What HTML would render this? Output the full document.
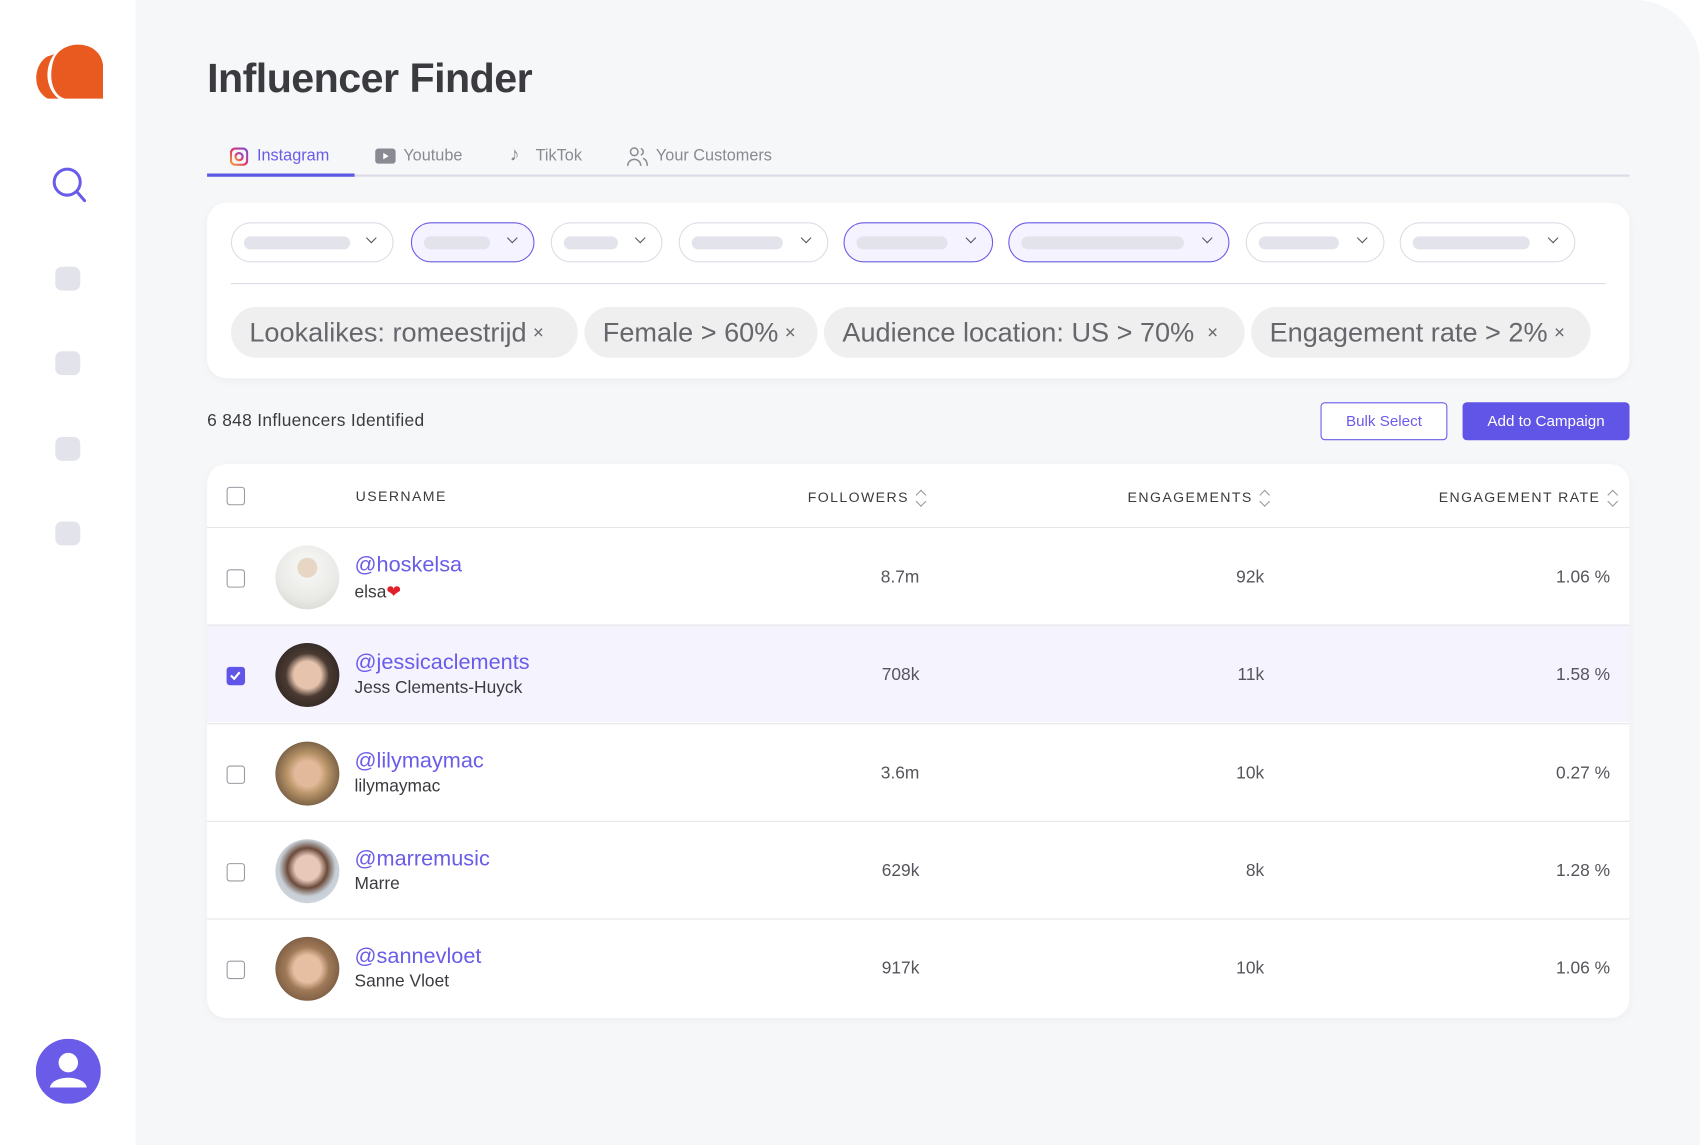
<!DOCTYPE html>
<html><head><meta charset="utf-8">
<style>
*{box-sizing:border-box;margin:0;padding:0}
html,body{width:1700px;height:1145px;overflow:hidden;background:#fff;font-family:"Liberation Sans",sans-serif}
#w{width:1568px;height:1056px;transform:scale(1.08418,1.08428);transform-origin:0 0;position:relative;background:#fff}
.side{position:absolute;left:0;top:0;width:125px;height:1056px;background:#fff}
.main{position:absolute;left:125px;top:0;width:1443px;height:1056px;background:#f6f7f9;border-top-right-radius:60px}
.a{position:absolute}
.sq{position:absolute;left:51px;width:23px;height:22px;border-radius:6px;background:#e3e3ec}
h1{position:absolute;left:191px;top:52px;font-size:38px;font-weight:bold;color:#3b3b3f;letter-spacing:-0.5px}
.tab{position:absolute;top:135px;font-size:15px;color:#8a8a92}
.card{position:absolute;background:#fff;border-radius:18px;box-shadow:0 2px 8px rgba(0,0,0,0.04)}
.dd{position:absolute;top:205px;height:37px;border:1px solid #dcdce6;border-radius:19px;background:#fff}
.dd.on{border-color:#6a5ce8;background:#f5f3ff}
.dd i{position:absolute;left:11px;top:12px;height:12px;border-radius:6px;background:#e3e3ec}
.dd b{position:absolute;right:16px;top:10px;width:7px;height:7px;border-right:1.5px solid #555;border-bottom:1.5px solid #555;transform:rotate(45deg)}
.chip{position:absolute;top:283px;height:47px;border-radius:24px;background:#efefef;color:#66666c;font-size:25px;line-height:47px;padding-left:17px;white-space:nowrap}
.chip s{text-decoration:none;font-size:17px;margin-left:6px;vertical-align:3px}
.th{position:absolute;top:450px;font-size:13px;letter-spacing:1.3px;color:#3b3b3f}
.ar{display:inline-block;vertical-align:-5px;margin-left:6px;width:10px;height:18px;position:relative}
.ar:before,.ar:after{content:"";position:absolute;left:2px;width:6px;height:6px;border-left:1.4px solid #999;border-top:1.4px solid #999}
.ar:before{top:3px;transform:rotate(45deg)}.ar:after{top:9px;transform:rotate(225deg)}
.row{position:absolute;left:191px;width:1312px;height:90px;border-top:1px solid #e4e4ea}
.cb{position:absolute;left:18px;width:17px;height:17px;border:1.5px solid #9a9aa2;border-radius:3px;background:#fff}
.av{position:absolute;left:63px;width:59px;height:59px;border-radius:50%}
.un{position:absolute;left:136px;font-size:20px;color:#6a5ce8}
.nm{position:absolute;left:136px;font-size:16px;color:#3b3b3f}
.n{position:absolute;font-size:16px;color:#55555c;text-align:right}
</style></head><body><div id="w">
<div class="side">
<svg class="a" style="left:30px;top:40px" width="66" height="52" viewBox="0 0 66 52"><path d="M14 12 C2 18 -2 42 14 51 L24 51 C10 40 12 20 20 10 Z" fill="#e95a20"/><path d="M20 14 C28 -4 62 -4 65 20 L65 51 L30 51 C18 48 14 30 20 14Z" fill="#e95a20"/></svg>
<svg class="a" style="left:46px;top:152px" width="36" height="36" viewBox="0 0 36 36"><circle cx="16" cy="16" r="12" fill="none" stroke="#6a5ce8" stroke-width="2.8"/><line x1="25" y1="25" x2="32" y2="33" stroke="#6a5ce8" stroke-width="2.8" stroke-linecap="round"/></svg>
<div class="sq" style="top:246px"></div><div class="sq" style="top:324px"></div><div class="sq" style="top:403px"></div><div class="sq" style="top:481px"></div>
<svg class="a" style="left:33px;top:958px" width="60" height="60" viewBox="0 0 60 60"><circle cx="30" cy="30" r="30" fill="#6a5ce8"/><circle cx="30" cy="22" r="9" fill="#fff"/><path d="M13 45 C15 33 45 33 47 45 Z" fill="#fff"/></svg>
</div>
<div class="main"></div>
<h1>Influencer Finder</h1>
<svg class="a" style="left:212px;top:136px" width="17" height="17" viewBox="0 0 17 17"><defs><linearGradient id="ig" x1="0" y1="1" x2="1" y2="0"><stop offset="0" stop-color="#f9a23a"/><stop offset=".5" stop-color="#e1306c"/><stop offset="1" stop-color="#7b4fd6"/></linearGradient></defs><rect x="1" y="1" width="15" height="15" rx="4" fill="none" stroke="url(#ig)" stroke-width="2"/><circle cx="8.5" cy="8.5" r="3.3" fill="none" stroke="url(#ig)" stroke-width="2"/></svg>
<div class="tab" style="left:237px;color:#6a5ce8">Instagram</div>
<svg class="a" style="left:346px;top:137px" width="19" height="14"><rect width="19" height="14" rx="3" fill="#8a8a92"/><path d="M7.5 4 L12.5 7 L7.5 10Z" fill="#fff"/></svg>
<div class="tab" style="left:372px">Youtube</div>
<div class="tab" style="left:470px;font-size:18px;top:132px">♪</div>
<div class="tab" style="left:494px">TikTok</div>
<svg class="a" style="left:578px;top:135px" width="20" height="19" viewBox="0 0 20 19" fill="none" stroke="#8a8a92" stroke-width="1.4"><circle cx="7" cy="5" r="3.5"/><path d="M1 18 C1 10 13 10 13 18"/><path d="M13 2 C16 3 16 7 13 8 M15 11 C18 12 19 15 19 18"/></svg>
<div class="tab" style="left:605px">Your Customers</div>
<div class="a" style="left:191px;top:161px;width:1312px;height:2px;background:#dcdce6"></div>
<div class="a" style="left:191px;top:160px;width:136px;height:3px;background:#5b5ae0"></div>

<div class="card" style="left:191px;top:187px;width:1312px;height:162px"></div>
<div class="dd" style="left:213px;width:150px"><i style="width:98px"></i><b></b></div>
<div class="dd on" style="left:379px;width:114px"><i style="width:61px"></i><b></b></div>
<div class="dd" style="left:508px;width:103px"><i style="width:50px"></i><b></b></div>
<div class="dd" style="left:626px;width:138px"><i style="width:84px"></i><b></b></div>
<div class="dd on" style="left:778px;width:138px"><i style="width:84px"></i><b></b></div>
<div class="dd on" style="left:930px;width:204px"><i style="width:150px"></i><b></b></div>
<div class="dd" style="left:1149px;width:128px"><i style="width:74px"></i><b></b></div>
<div class="dd" style="left:1291px;width:162px"><i style="width:108px"></i><b></b></div>
<div class="a" style="left:213px;top:261px;width:1268px;height:1px;background:#dcdce6"></div>
<div class="chip" style="left:213px;width:320px">Lookalikes: romeestrijd<s>×</s></div>
<div class="chip" style="left:539px;width:215px">Female &gt; 60%<s>×</s></div>
<div class="chip" style="left:760px;width:388px">Audience location: US &gt; 70%<s style="margin-left:12px">×</s></div>
<div class="chip" style="left:1154px;width:313px">Engagement rate &gt; 2%<s>×</s></div>

<div class="a" style="left:191px;top:380px;font-size:16px;color:#3b3b3f;letter-spacing:.3px">6 848 Influencers Identified</div>
<div class="a" style="left:1218px;top:371px;width:117px;height:35px;border:1px solid #6a5ce8;border-radius:4px;color:#6a5ce8;font-size:14px;text-align:center;line-height:33px;background:#fff">Bulk Select</div>
<div class="a" style="left:1349px;top:371px;width:154px;height:35px;border-radius:4px;background:#6055e6;color:#fff;font-size:14px;text-align:center;line-height:35px">Add to Campaign</div>

<div class="card" style="left:191px;top:428px;width:1312px;height:511px;overflow:hidden"></div>
<div class="cb" style="left:209px;top:449px"></div>
<div class="th" style="left:328px">USERNAME</div>
<div class="th" style="left:745px">FOLLOWERS<span class="ar"></span></div>
<div class="th" style="left:1040px">ENGAGEMENTS<span class="ar"></span></div>
<div class="th" style="left:1327px">ENGAGEMENT RATE<span class="ar"></span></div>

<div class="row" style="top:486px"><div class="cb" style="top:38px"></div><div class="av" style="top:16px;background:radial-gradient(circle at 50% 35%,#e8d6c4 0 18%,#f4f4f2 20%,#e9e9e6 60%,#cfcfcb)"></div><div class="un" style="top:23px">@hoskelsa</div><div class="nm" style="top:49px">elsa<span style="color:#e0202a">❤</span></div><div class="n" style="right:655px;top:37px">8.7m</div><div class="n" style="right:337px;top:37px">92k</div><div class="n" style="right:18px;top:37px">1.06 %</div></div>
<div class="row" style="top:576px;background:#f4f3fe"><div class="cb" style="top:38px;background:#6055e6;border-color:#6055e6"><svg width="14" height="14" style="position:absolute;left:0;top:0"><path d="M3 7 L6 10 L11 4" stroke="#fff" stroke-width="2" fill="none"/></svg></div><div class="av" style="top:16px;background:radial-gradient(circle at 50% 50%,#e6c3ad 0 30%,#4a3a32 48%,#1e1a18)"></div><div class="un" style="top:23px">@jessicaclements</div><div class="nm" style="top:49px">Jess Clements-Huyck</div><div class="n" style="right:655px;top:37px">708k</div><div class="n" style="right:337px;top:37px">11k</div><div class="n" style="right:18px;top:37px">1.58 %</div></div>
<div class="row" style="top:667px"><div class="cb" style="top:38px"></div><div class="av" style="top:16px;background:radial-gradient(circle at 50% 50%,#e2b99a 0 28%,#b89468 45%,#3a2c22)"></div><div class="un" style="top:23px">@lilymaymac</div><div class="nm" style="top:49px">lilymaymac</div><div class="n" style="right:655px;top:37px">3.6m</div><div class="n" style="right:337px;top:37px">10k</div><div class="n" style="right:18px;top:37px">0.27 %</div></div>
<div class="row" style="top:757px"><div class="cb" style="top:38px"></div><div class="av" style="top:16px;background:radial-gradient(circle at 50% 45%,#e8c8b8 0 26%,#6a4a3a 42%,#c7cfd6 60%,#d8dde2)"></div><div class="un" style="top:23px">@marremusic</div><div class="nm" style="top:49px">Marre</div><div class="n" style="right:655px;top:37px">629k</div><div class="n" style="right:337px;top:37px">8k</div><div class="n" style="right:18px;top:37px">1.28 %</div></div>
<div class="row" style="top:847px;border-bottom-left-radius:18px;border-bottom-right-radius:18px"><div class="cb" style="top:38px"></div><div class="av" style="top:16px;background:radial-gradient(circle at 50% 50%,#e6bfa2 0 30%,#a07a58 48%,#5a4030)"></div><div class="un" style="top:23px">@sannevloet</div><div class="nm" style="top:49px">Sanne Vloet</div><div class="n" style="right:655px;top:37px">917k</div><div class="n" style="right:337px;top:37px">10k</div><div class="n" style="right:18px;top:37px">1.06 %</div></div>
</div></body></html>
